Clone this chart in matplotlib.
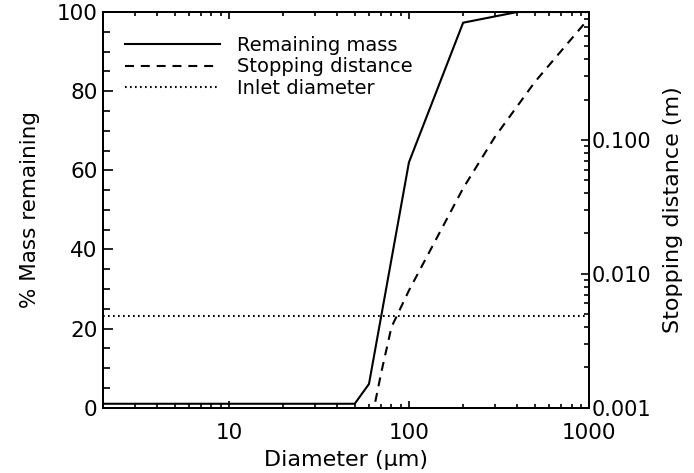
import matplotlib
matplotlib.use("Agg")
import matplotlib.pyplot as plt
from matplotlib.ticker import FixedLocator, FuncFormatter, LogLocator, NullFormatter

plt.rcParams['font.family'] = ['DejaVu Sans']

# remaining mass (%) vs diameter (um)
d_mass = [2, 50, 60, 100, 200, 400, 1000]
mass = [1, 1, 6, 62, 97.3, 100, 100]

# stopping distance (m) vs diameter (um)
d_stop = [60, 70, 80, 100, 200, 300, 500, 1000]
stop = [0.00065, 0.0018, 0.0040, 0.0075, 0.0435, 0.105, 0.27, 0.81]

inlet = 0.0048  # inlet diameter (m)

legend_labels = ['Remaining mass', 'Stopping distance', 'Inlet diameter']

fig = plt.figure(figsize=(6.94, 4.73), dpi=100)
ax = fig.add_axes([0.1484, 0.138, 0.7003, 0.8366])
ax2 = ax.twinx()

l1, = ax.plot(d_mass, mass, color='black', lw=1.5)
l2, = ax2.plot(d_stop, stop, color='black', lw=1.5, dashes=(4.3, 3.3))
l3 = ax2.axhline(inlet, color='black', lw=1.5, ls=(0, (0.8, 1.6)))

ax.set_xscale('log')
ax.set_xlim(2, 1000)
ax.set_ylim(0, 100)
ax2.set_yscale('log')
ax2.set_ylim(0.001, 0.9)

ax.yaxis.set_major_locator(FixedLocator([0, 20, 40, 60, 80, 100]))
ax.yaxis.set_minor_locator(FixedLocator(list(range(0, 101, 5))))
ax.xaxis.set_major_locator(FixedLocator([10, 100, 1000]))
ax.xaxis.set_major_formatter(FuncFormatter(lambda v, p: '%d' % v))
ax.xaxis.set_minor_locator(LogLocator(base=10, subs=range(2, 10)))
ax.xaxis.set_minor_formatter(NullFormatter())

ax2.yaxis.set_major_locator(FixedLocator([0.001, 0.01, 0.1]))
ax2.yaxis.set_major_formatter(FuncFormatter(lambda v, p: '%.3f' % v))
ax2.yaxis.set_minor_locator(LogLocator(base=10, subs=range(2, 10)))
ax2.yaxis.set_minor_formatter(NullFormatter())

ax.tick_params(axis='x', which='both', direction='in', top=True, bottom=True,
               labelsize=15.5, pad=11, width=1.2)
ax.tick_params(axis='x', which='major', length=5)
ax.tick_params(axis='x', which='minor', length=3)
ax.tick_params(axis='y', which='both', direction='in', left=True, right=False,
               labelsize=15.5, pad=4, width=1.2)
ax.tick_params(axis='y', which='major', length=7.5)
ax.tick_params(axis='y', which='minor', length=5)
ax2.tick_params(axis='y', which='both', direction='in', right=True,
                labelsize=15, pad=2, width=1.2)
ax2.tick_params(axis='y', which='major', length=6)
ax2.tick_params(axis='y', which='minor', length=3.5)

for a in (ax, ax2):
    for s in a.spines.values():
        s.set_linewidth(1.4)

ax.set_xlabel('Diameter (μm)', fontsize=16, labelpad=5)
ax.set_ylabel('% Mass remaining', fontsize=15.5, labelpad=12)
ax2.set_ylabel('Stopping distance (m)', fontsize=16, labelpad=8)

ax2.legend([l1, l2, l3], legend_labels, loc='upper left', frameon=False,
           fontsize=14, handlelength=4.9, handletextpad=0.87,
           labelspacing=0.14, borderaxespad=0, borderpad=0,
           bbox_to_anchor=(0.045, 0.94))

fig.savefig('out.png', dpi=100)
